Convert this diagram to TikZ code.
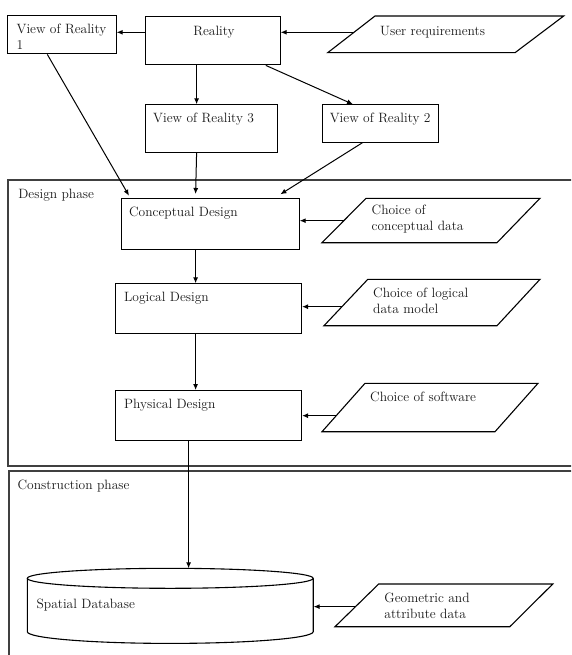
\documentclass[tikz,border=0pt]{standalone}
\usepackage{fontspec}
\usetikzlibrary{arrows.meta,calc}
\begin{document}
\begin{tikzpicture}[x=1pt,y=-1pt,
  box/.style={draw=black,line width=1.1pt,inner sep=0pt,anchor=north west},
  frame/.style={draw=black!75,line width=1.1pt},
  para/.style={draw=black,line width=1.1pt},
  txt/.style={inner sep=0pt,anchor=west,align=left,font=\fontsize{13.5}{16.6}\selectfont,text=black!90},
  arr/.style={draw=black,line width=1pt,-{Latex[length=6pt,width=5pt]}},
  ln/.style={draw=black,line width=1pt}]
\useasboundingbox (0,0) rectangle (571,655);
\clip (0,0) rectangle (571,655);
\fill[white] (0,0) rectangle (571,655);

% frames (right and bottom sides are beyond the picture)
\draw[frame] (580,180) -- (8,180) -- (8,466) -- (580,466);
\draw[frame] (580,471) -- (9,471) -- (9,665);
\node[txt] (dp) at (18.2,195) {Design phase};
\node[txt] (cp) at (17.5,486) {Construction phase};

% top boxes
\node[box,minimum width=109pt,minimum height=38.3pt] (vr1) at (6.6,15) {};
\node[txt] (vr1t) at (16.4,36.6) {View of Reality\\1};
\node[box,minimum width=135pt,minimum height=48.3pt] (real) at (144.6,16) {};
\node[inner sep=0pt,font=\fontsize{13.5}{16.6}\selectfont,text=black!90] (realt) at (214,32) {Reality};
\node[box,minimum width=132.2pt,minimum height=47.4pt] (vr3) at (144.6,104.3) {};
\node[txt] (vr3t) at (153,119) {View of Reality 3};
\node[box,minimum width=115.7pt,minimum height=37.4pt] (vr2) at (322,104.3) {};
\node[txt] (vr2t) at (329.6,119) {View of Reality 2};

% user requirements
\coordinate (urA) at (375,16); \coordinate (urB) at (563.7,16);
\coordinate (urC) at (515,52.7); \coordinate (urD) at (327.7,52.7);
\draw[para] (urA) -- (urB) -- (urC) -- (urD) -- cycle;
\node[txt] (urt) at (380,32) {User requirements};
\coordinate (urL) at ($(urA)!0.444!(urD)$);

% design boxes
\node[box,minimum width=177.6pt,minimum height=50.7pt] (cd) at (121,198.3) {};
\node[txt] (cdt) at (129,212.7) {Conceptual Design};
\node[box,minimum width=186pt,minimum height=50pt] (ld) at (115,283.3) {};
\node[txt] (ldt) at (124,298.3) {Logical Design};
\node[box,minimum width=186pt,minimum height=50pt] (pd) at (115,390) {};
\node[txt] (pdt) at (124,405) {Physical Design};

% choice parallelograms
\coordinate (c1A) at (366,198.3); \coordinate (c1B) at (540,198.3);
\coordinate (c1C) at (497,242.7); \coordinate (c1D) at (322,242.7);
\draw[para] (c1A) -- (c1B) -- (c1C) -- (c1D) -- cycle;
\node[txt] (c1t) at (371.5,219.2) {Choice of\\conceptual data};
\coordinate (c1L) at ($(c1A)!0.504!(c1D)$);

\coordinate (c2A) at (367.8,279.3); \coordinate (c2B) at (540,279.3);
\coordinate (c2C) at (497,325.7); \coordinate (c2D) at (324,325.7);
\draw[para] (c2A) -- (c2B) -- (c2C) -- (c2D) -- cycle;
\node[txt] (c2t) at (373,300.8) {Choice of logical\\data model};
\coordinate (c2L) at ($(c2A)!0.59!(c2D)$);

\coordinate (c3A) at (365,383.3); \coordinate (c3B) at (538,383.3);
\coordinate (c3C) at (495,431.7); \coordinate (c3D) at (322,431.7);
\draw[para] (c3A) -- (c3B) -- (c3C) -- (c3D) -- cycle;
\node[txt] (c3t) at (370,397.3) {Choice of software};
\coordinate (c3L) at ($(c3A)!0.669!(c3D)$);

% database cylinder
\draw[para,fill=white] (27.3,578.3) -- (27.3,631.7) arc[start angle=180,end angle=360,x radius=142.95pt,y radius=11.7pt] -- (313.2,578.3);
\draw[para] (170.25,578.3) ellipse[x radius=142.95pt,y radius=10pt];
\node[inner sep=0pt,minimum width=285.9pt,minimum height=75pt,anchor=north west] (db) at (27.3,568.3) {};
\node[txt] (dbt) at (36.4,605) {Spatial Database};

\coordinate (gA) at (378.7,584); \coordinate (gB) at (552.8,584);
\coordinate (gC) at (509.8,626.7); \coordinate (gD) at (335,626.7);
\draw[para] (gA) -- (gB) -- (gC) -- (gD) -- cycle;
\node[txt] (gt) at (384.2,606) {Geometric and\\attribute data};
\coordinate (gL) at ($(gA)!0.53!(gD)$);

% connectors
\draw[arr] (urL) -- (real.east |- urL);
\draw[arr] (real.west |- 0,32.3) -- (vr1.east |- 0,32.3);
\draw[arr] (real.south -| 196.6,0) -- (vr3.north -| 196.6,0);
\draw[arr] (real.south -| 265.8,0) -- (vr2.north -| 353,0);
\draw[arr] (vr1.south -| 47.3,0) -- (129,195.7);
\draw[arr] (vr3.south -| 196.6,0) -- (195.6,194);
\draw[arr] (vr2.south -| 362.3,0) -- (280.4,194.3);
\draw[arr] (c1L) -- (cd.east |- c1L);
\draw[arr] (c2L) -- (ld.east |- c2L);
\draw[arr] (c3L) -- (pd.east |- c3L);
\draw[arr] (gL) -- (db.east |- gL);
\draw[arr] (cd.south -| 195.6,0) -- (ld.north -| 195.6,0);
\draw[arr] (ld.south -| 195.6,0) -- (pd.north -| 195.6,0);
\draw[arr] (pd.south -| 188.6,0) -- (db.north -| 188.6,0);
\end{tikzpicture}
\end{document}
